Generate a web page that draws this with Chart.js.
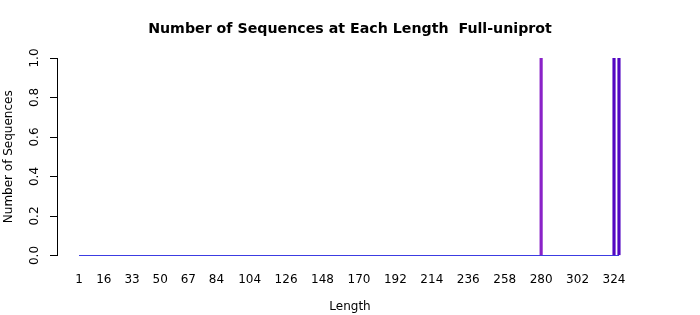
<!DOCTYPE html>
<html>
<head>
<meta charset="utf-8">
<script src="https://cdn.jsdelivr.net/npm/chart.js@4/dist/chart.umd.min.js"></script>
<style>
  html, body { margin: 0; padding: 0; background: #fff; }
  #wrap { width: 700px; height: 315px; }
</style>
</head>
<body>
<div id="wrap"><canvas id="lenChart"></canvas></div>
<script>
(function() {
  'use strict';

  // lengths that have sequences, and how many
  var lengths = [280, 324, 327];
  var counts = [1, 1, 1];
  var barColors = ['#8a22c8', '#5206c2', '#5206c2'];

  // zero-count bars show as a flat line over the whole length range
  var rangeLengths = [1, 327];
  var rangeCounts = [0, 0];

  var xTickLabels = [1, 16, 33, 50, 67, 84, 104, 126, 148, 170, 192, 214, 236, 258, 280, 302, 324];
  var yTickLabels = [0, 0.2, 0.4, 0.6, 0.8, 1.0];

  var mainTitle = 'Number of Sequences at Each Length  Full-uniprot';

  Chart.defaults.font.family = "'DejaVu Sans', sans-serif";
  Chart.defaults.color = '#000';

  var barPoints = lengths.map(function(l, i) { return { x: l, y: counts[i] }; });
  var basePoints = rangeLengths.map(function(l, i) { return { x: l, y: rangeCounts[i] }; });

  // R style: title centred on the page, y labels turned on their side
  var rStyle = {
    id: 'rStyle',
    afterDraw: function(chart) {
      var ctx = chart.ctx;
      var y = chart.scales.y;
      ctx.save();
      ctx.fillStyle = '#000';
      ctx.textAlign = 'center';
      ctx.textBaseline = 'middle';
      ctx.font = 'bold 14.2px "DejaVu Sans", sans-serif';
      ctx.fillText(mainTitle, chart.width / 2, 29);
      ctx.font = '12px "DejaVu Sans", sans-serif';
      yTickLabels.forEach(function(v) {
        ctx.save();
        ctx.translate(35, y.getPixelForValue(v));
        ctx.rotate(-Math.PI / 2);
        ctx.fillText(v.toFixed(1), 0, 0);
        ctx.restore();
      });
      ctx.restore();
    }
  };

  new Chart(document.getElementById('lenChart'), {
    type: 'bar',
    data: {
      datasets: [{
        type: 'bar',
        data: barPoints,
        backgroundColor: barColors,
        borderWidth: 0,
        barThickness: 2.5,
        order: 1
      }, {
        type: 'line',
        data: basePoints,
        borderColor: '#3c3ce2',
        borderWidth: 1,
        pointRadius: 0,
        clip: false,
        order: 2
      }]
    },
    options: {
      responsive: true,
      maintainAspectRatio: false,
      animation: false,
      layout: { padding: { left: 0, right: 57, top: 58, bottom: 0 } },
      plugins: {
        legend: { display: false },
        tooltip: { enabled: false },
        title: { display: false }
      },
      scales: {
        x: {
          type: 'linear',
          min: -12.3,
          max: 341.5,
          offset: false,
          grid: { display: false, drawTicks: false },
          border: { display: false },
          afterBuildTicks: function(scale) {
            scale.ticks = xTickLabels.map(function(v) { return { value: v }; });
          },
          ticks: {
            autoSkip: false,
            maxRotation: 0,
            padding: 17,
            font: { size: 12 },
            callback: function(v) { return String(v); }
          },
          title: {
            display: true,
            text: 'Length',
            font: { size: 12 },
            padding: { top: 13, bottom: 1 }
          },
          afterFit: function(scale) { scale.height = 59.5; }
        },
        y: {
          min: 0,
          max: 1,
          ticks: { stepSize: 0.2, display: false },
          grid: { drawOnChartArea: false, drawTicks: true, tickLength: 7, color: '#000' },
          border: { display: true, color: '#000', width: 1 },
          title: {
            display: true,
            text: 'Number of Sequences',
            font: { size: 12 },
            padding: { top: 2, bottom: 0 }
          },
          afterFit: function(scale) { scale.width = 57; }
        }
      }
    },
    plugins: [rStyle]
  });
}());
</script>
</body>
</html>
